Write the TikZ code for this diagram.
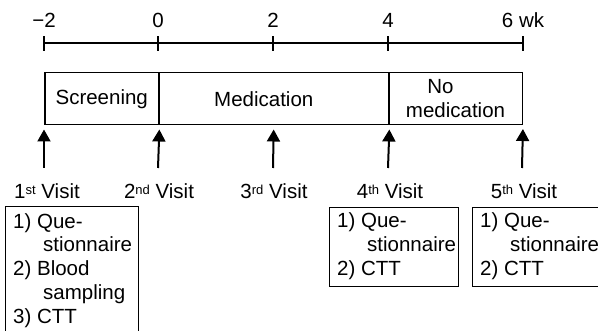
\documentclass[tikz,border=0pt]{standalone}
\usepackage{fontspec}
\setmainfont{Liberation Sans}
\usetikzlibrary{arrows.meta}
\newcommand\supx[1]{\raisebox{4.5pt}{\fontsize{13}{13}\selectfont #1}}
\begin{document}
\begin{tikzpicture}[x=1pt,y=-1pt,
  every node/.style={font=\fontsize{20.5}{24}\selectfont, inner sep=0pt},
  axis/.style={line width=1.2pt},
  phase/.style={draw, line width=1.5pt, minimum height=52pt, anchor=north west},
  arr/.style={line width=2pt, -{Triangle[width=13pt,length=12pt]}, shorten >=4pt},
  listbox/.style={draw, line width=1.1pt, anchor=north west},
  listtext/.style={align=left, anchor=base west}]
\useasboundingbox (0,0) rectangle (598,331);
% axis
\coordinate (t0) at (44,43);
\coordinate (t1) at (158,43);
\coordinate (t2) at (273,43);
\coordinate (t3) at (388,43);
\coordinate (t4) at (523,43);
\draw[axis] (t0) -- (t4);
\foreach \t in {t0,t1,t2,t3,t4} \draw[axis] (\t) ++(0,-6.5) -- ++(0,15);
\node[anchor=base] (l0) at (44,28) {−2};
\node[anchor=base] (l1) at (158,28) {0};
\node[anchor=base] (l2) at (273,28) {2};
\node[anchor=base] (l3) at (388,28) {4};
\node[anchor=base] (l4) at (523,28) {6 wk};
% phases
\node[phase, minimum width=114pt] (scr) at (44,72) {Screening};
\node[phase, minimum width=230pt] (med) at (158,72) {Medication\hspace*{20pt}};
\node[phase, line width=1pt, minimum width=134pt, align=center] (nomed) at (388,72) {\hspace*{-30pt}No\\medication};
% arrows
\coordinate (a1) at (44,168);
\coordinate (a2) at (158,168);
\coordinate (a3) at (273,168);
\coordinate (a4) at (388,168);
\coordinate (a5) at (522,168);
\draw[arr] (a1) -- (scr.south west);
\draw[arr] (a2) -- (scr.south east);
\draw[arr] (a3) -- (med.south);
\draw[arr] (a4) -- (med.south east);
\draw[arr] (a5) -- (nomed.south east);
% visit labels
\node[anchor=base] (v1) at (47,199) {1\supx{st} Visit};
\node[anchor=base] (v2) at (159,199) {2\supx{nd} Visit};
\node[anchor=base] (v3) at (274,199) {3\supx{rd} Visit};
\node[anchor=base] (v4) at (390,199) {4\supx{th} Visit};
\node[anchor=base] (v5) at (524,199) {5\supx{th} Visit};
% boxes
\node[listbox, minimum width=133pt, minimum height=140pt] (b1) at (5,206) {};
\node[listbox, minimum width=129pt, minimum height=79pt] (b4) at (329,207) {};
\node[listbox, minimum width=135pt, minimum height=79pt] (b5) at (472,207) {};
% base anchor of a multi-line node lies on its last line
\node[listtext] (b1t) at (13,324) {1) Que-\\\hspace*{30pt}stionnaire\\2) Blood\\\hspace*{30pt}sampling\\3) CTT};
\node[listtext] (b4t) at (337,276) {1) Que-\\\hspace*{30pt}stionnaire\\2) CTT};
\node[listtext] (b5t) at (480,276) {1) Que-\\\hspace*{30pt}stionnaire\\2) CTT};
\end{tikzpicture}
\end{document}
